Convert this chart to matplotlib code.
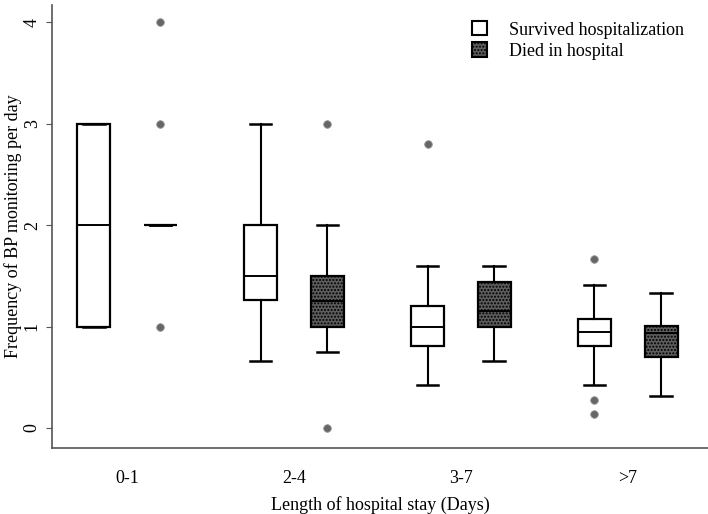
import numpy as np
import matplotlib
matplotlib.use('Agg')
import matplotlib.pyplot as plt
from matplotlib.patches import Patch

plt.rcParams['font.family'] = ['Liberation Serif', 'DejaVu Serif']

# data
categories = ['0-1', '2-4', '3-7', '>7']
# survived hospitalization: (whislo, q1, med, q3, whishi)
surv_lo = [1.0, 0.66, 0.42, 0.42]
surv_q1 = [1.0, 1.26, 0.81, 0.81]
surv_med = [2.0, 1.5, 1.0, 0.95]
surv_q3 = [3.0, 2.0, 1.2, 1.07]
surv_hi = [3.0, 3.0, 1.6, 1.41]
surv_fliers = [[], [], [2.8], [1.67, 0.28, 0.14]]
# died in hospital
died_lo = [2.0, 0.75, 0.66, 0.32]
died_q1 = [2.0, 1.0, 1.0, 0.70]
died_med = [2.0, 1.25, 1.15, 0.94]
died_q3 = [2.0, 1.5, 1.44, 1.01]
died_hi = [2.0, 2.0, 1.6, 1.33]
died_fliers = [[4.0, 3.0, 1.0], [3.0, 0.0], [], []]


def stats(lo, q1, med, q3, hi, fl):
    return [dict(whislo=a, q1=b, med=c, q3=d, whishi=e, fliers=f)
            for a, b, c, d, e, f in zip(lo, q1, med, q3, hi, fl)]


fig = plt.figure(figsize=(7.08, 5.14), dpi=100)
ax = fig.add_axes([0.0734, 0.1284, 0.9266, 0.8616])

pos = np.arange(1, len(categories) + 1)
off = 0.2
flier = dict(marker='o', markerfacecolor='#666666', markeredgecolor='#999999',
             markersize=5.5, markeredgewidth=0.6)
common = dict(widths=0.195, patch_artist=True, showfliers=True,
              whiskerprops=dict(lw=1.5, color='black'),
              capprops=dict(lw=1.8, color='black'),
              medianprops=dict(lw=1.4, color='black'),
              flierprops=flier)

b1 = ax.bxp(stats(surv_lo, surv_q1, surv_med, surv_q3, surv_hi, surv_fliers),
            positions=pos - off, capwidths=0.13, **common)
for p in b1['boxes']:
    p.set_facecolor('white')
    p.set_edgecolor('black')
    p.set_linewidth(1.6)

b2 = ax.bxp(stats(died_lo, died_q1, died_med, died_q3, died_hi, died_fliers),
            positions=pos + off, capwidths=0.13, **common)
for p in b2['boxes']:
    p.set_facecolor('#5e5e5e')
    p.set_edgecolor('black')
    p.set_hatch('.....')
    p.set_linewidth(1.6)

ax.set_xlim(0.55, 4.48)
ax.set_ylim(-0.197, 4.167)
ax.set_xticks(pos)
ax.set_xticklabels(categories, fontsize=13)
ax.tick_params(axis='x', length=0, pad=16)
ax.set_yticks([0, 1, 2, 3, 4])
ax.set_yticklabels(['0', '1', '2', '3', '4'], rotation=90, va='center', fontsize=13)
ax.tick_params(axis='y', length=4, color='#555555', pad=4)

for s in ['top', 'right']:
    ax.spines[s].set_visible(False)
for s in ['left', 'bottom']:
    ax.spines[s].set_color('#555555')
    ax.spines[s].set_linewidth(1.2)

ax.set_xlabel('Length of hospital stay (Days)', fontsize=13)
ax.set_ylabel('Frequency of BP monitoring per day', fontsize=13)
ax.xaxis.set_label_coords(0.5, -0.129)
ax.yaxis.set_label_coords(-0.059, 0.5)
ax.xaxis.label.set_va('center')
ax.yaxis.label.set_va('center')

handles = [Patch(facecolor='white', edgecolor='black', lw=1.5, label='Survived hospitalization'),
           Patch(facecolor='#5e5e5e', edgecolor='black', hatch='.....', lw=1.5, label='Died in hospital')]
ax.legend(handles=handles, loc='upper left', bbox_to_anchor=(0.64, 0.964), frameon=False,
          fontsize=13, handlelength=0.85, handleheight=0.85, handletextpad=1.2,
          labelspacing=0.2, borderaxespad=0, borderpad=0)

fig.savefig('out.png', dpi=100)
